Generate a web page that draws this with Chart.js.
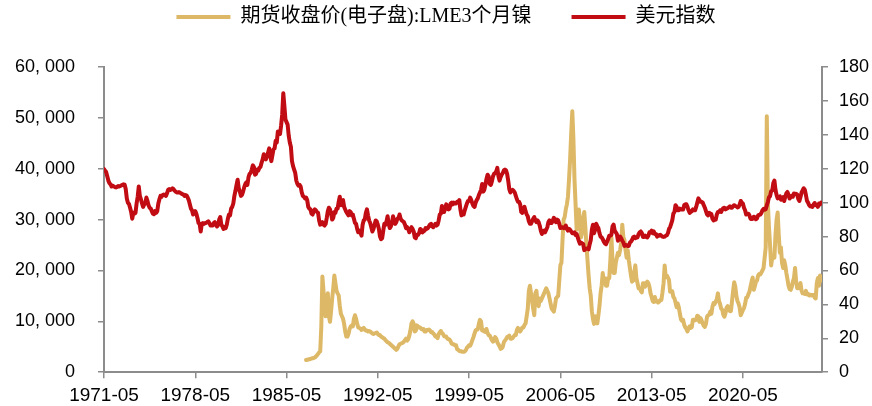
<!DOCTYPE html>
<html>
<head>
<meta charset="utf-8">
<script src="https://cdn.jsdelivr.net/npm/chart.js@4.4.1/dist/chart.umd.min.js"></script>
<style>
  html, body { margin: 0; padding: 0; background: #fff; }
  #wrap { width: 872px; height: 406px; position: relative; }
</style>
</head>
<body>
<div id="wrap"><canvas id="nickelChart"></canvas></div>
<script>
// x axis tick labels (every 7 years, May)
const xTickLabels = ["1971-05", "1978-05", "1985-05", "1992-05", "1999-05", "2006-05", "2013-05", "2020-05"];

const seriesNames = ["期货收盘价(电子盘):LME3个月镍", "美元指数"];

// 美元指数, monthly from 1971-05
const dollarStart = "1971-05";
const dollarIndex = [
  119.8, 118.8, 118.0, 115.5, 113.0, 111.5, 110.8, 109.5,
  110.0, 109.5, 109.2, 109.0, 109.3, 109.8, 109.5, 109.8, 110.2, 110.5, 110.8, 110.6,
  108.0, 102.5, 100.0, 99.2, 97.0, 94.5, 90.5, 94.0, 93.5, 94.0, 99.5, 103.5,
  109.5, 104.0, 102.0, 99.5, 97.5, 99.0, 99.5, 103.0, 101.0, 98.5, 97.0, 96.5,
  95.0, 93.5, 93.2, 95.0, 94.0, 95.0, 99.5, 102.0, 104.0, 103.5, 104.5, 104.8,
  104.5, 104.0, 105.5, 107.5, 108.0, 107.5, 107.8, 108.5, 108.0, 107.0, 106.5, 106.0,
  106.0, 106.2, 105.8, 105.5, 105.0, 104.8, 104.0, 104.5, 104.2, 103.0, 101.5, 99.0,
  96.5, 95.5, 93.0, 94.0, 95.0, 93.5, 91.0, 88.0, 87.5, 83.0, 87.5, 88.0,
  87.5, 88.0, 88.0, 88.5, 89.0, 88.0, 86.5, 86.5, 86.5, 88.0, 88.5, 86.8,
  86.0, 86.8, 90.0, 91.5, 87.0, 86.0, 84.5, 85.5, 85.0, 87.0, 90.5, 93.0,
  92.5, 96.5, 97.5, 99.5, 104.0, 107.0, 110.5, 113.5, 108.5, 106.5, 104.0, 104.5,
  106.5, 109.0, 111.0, 112.0, 110.5, 115.0, 117.0, 117.5, 119.5, 122.0, 121.0, 116.5,
  117.0, 119.5, 119.0, 120.5, 121.0, 123.5, 125.5, 128.5, 127.5, 125.5, 127.5, 129.5,
  132.0, 127.5, 124.5, 128.0, 131.5, 132.0, 136.5, 135.5, 142.0, 141.5, 140.5, 145.5,
  152.0, 164.5, 157.0, 149.0, 147.5, 146.0, 139.5, 135.5, 133.0, 124.5, 121.5, 119.5,
  117.5, 113.0, 111.0, 110.0, 110.5, 109.5, 106.0, 104.0, 103.5, 102.5, 103.0, 101.5,
  97.5, 96.5, 96.0, 93.5, 93.0, 95.0, 96.0, 95.5, 94.5, 94.0, 89.5, 87.0,
  87.5, 88.5, 87.0, 86.5, 87.5, 91.0, 95.0, 97.0, 96.0, 93.5, 90.0, 91.0,
  94.5, 94.0, 96.5, 96.5, 100.5, 103.5, 98.5, 101.0, 101.5, 97.5, 96.0, 94.5,
  93.5, 92.5, 95.0, 94.5, 92.5, 93.0, 90.5, 88.0, 87.5, 84.5, 82.5, 83.5,
  82.5, 80.5, 87.0, 89.5, 90.0, 94.0, 96.0, 92.5, 89.5, 88.0, 85.5, 83.0,
  84.5, 87.0, 89.5, 89.0, 87.0, 84.5, 80.0, 78.5, 79.0, 83.5, 87.5, 87.0,
  89.0, 92.0, 87.5, 85.0, 86.0, 88.0, 92.0, 89.5, 87.5, 88.5, 90.5, 91.0,
  93.0, 90.5, 89.5, 89.0, 88.5, 87.0, 85.0, 85.5, 84.5, 82.5, 84.5, 85.5,
  84.5, 83.0, 79.5, 79.0, 81.0, 81.0, 82.0, 84.5, 84.0, 82.5, 83.0, 83.5,
  85.0, 84.5, 85.0, 86.0, 87.0, 87.5, 86.0, 85.5, 86.5, 87.5, 86.5, 87.0,
  89.5, 93.0, 93.5, 98.0, 94.5, 94.5, 97.0, 99.0, 96.5, 96.0, 96.5, 99.5,
  100.0, 99.0, 100.0, 99.5, 99.5, 100.5, 100.5, 101.5, 96.0, 92.5, 94.0, 93.0,
  95.5, 97.5, 99.5, 101.0, 101.0, 103.0, 101.5, 99.5, 98.0, 97.5, 100.0, 101.5,
  102.5, 104.5, 106.0, 107.5, 111.0, 106.5, 107.5, 110.5, 114.0, 116.5, 115.5, 111.0,
  110.5, 112.5, 115.5, 117.0, 117.5, 118.5, 120.5, 115.5, 113.0, 115.0, 116.5, 117.5,
  119.0, 119.5, 119.0, 117.0, 113.0, 108.0, 106.0, 107.0, 107.5, 107.0, 106.0, 104.0,
  102.0, 100.5, 100.5, 99.0, 94.5, 94.0, 96.0, 97.5, 95.0, 93.0, 92.0, 89.0,
  87.5, 87.5, 89.0, 90.5, 91.5, 89.5, 88.5, 89.5, 88.5, 86.5, 83.5, 81.5,
  83.0, 83.5, 82.5, 84.0, 85.5, 88.5, 89.5, 88.0, 88.0, 89.5, 91.0, 90.0,
  88.5, 90.0, 89.5, 87.5, 85.0, 85.5, 85.5, 85.0, 85.5, 86.5, 84.5, 83.5,
  84.5, 84.0, 83.0, 82.0, 82.0, 82.5, 81.0, 81.5, 79.5, 77.5, 75.8, 76.5,
  76.0, 75.5, 72.0, 72.5, 72.8, 73.0, 72.5, 75.5, 78.0, 84.0, 87.0, 82.0,
  84.0, 87.5, 86.0, 85.0, 82.0, 80.0, 79.5, 78.5, 77.0, 76.0, 75.5, 77.0,
  78.5, 80.5, 80.5, 81.0, 86.0, 87.0, 83.5, 82.5, 81.5, 77.5, 78.5, 80.0,
  79.0, 77.5, 76.5, 74.5, 75.0, 74.8, 74.5, 74.5, 76.5, 77.0, 78.0, 79.5,
  80.0, 79.0, 79.5, 79.5, 81.5, 82.5, 83.0, 82.0, 79.8, 79.8, 80.5, 79.8,
  79.5, 80.5, 82.5, 82.5, 83.5, 82.0, 83.0, 81.5, 81.5, 80.0, 80.7, 80.5,
  81.0, 80.5, 80.0, 79.8, 80.0, 80.5, 80.8, 82.0, 84.5, 85.5, 87.5, 89.5,
  93.5, 94.5, 98.5, 97.5, 95.5, 95.5, 96.5, 96.0, 96.0, 96.0, 98.5, 99.0,
  99.0, 97.5, 95.5, 94.0, 94.5, 95.0, 96.0, 95.5, 95.5, 97.5, 100.0, 102.5,
  101.5, 100.5, 100.5, 100.0, 98.5, 97.0, 95.0, 93.0, 92.5, 94.0, 93.5, 93.2,
  90.5, 89.5, 89.8, 90.0, 93.0, 94.5, 94.5, 95.5, 94.5, 96.0, 96.8, 97.0,
  96.0, 96.5, 96.8, 97.3, 97.8, 97.0, 97.0, 98.0, 98.5, 98.0, 97.8, 97.2,
  97.5, 98.8, 101.0, 100.0, 99.5, 97.0, 95.5, 93.0, 93.5, 93.5, 92.5, 90.5,
  90.3, 90.5, 91.7, 91.5, 90.2, 90.8, 92.5, 92.8, 93.0, 93.9, 95.5, 96.3,
  95.8, 96.2, 98.4, 100.5, 103.2, 103.8, 106.8, 107.2, 111.5, 113.0, 107.5, 104.5,
  102.5, 103.5, 103.7, 101.7, 102.6, 103.3, 101.0, 103.5, 105.5, 106.3, 104.5, 102.4,
  103.2, 104.0, 103.5, 105.4, 105.1, 105.2, 104.7, 102.1, 101.0, 103.3, 106.0, 107.3,
  108.5, 107.5, 104.5, 101.0, 100.0, 98.5, 97.8, 98.0, 97.5, 98.8, 99.8, 98.5,
  98.5, 97.5, 99.5, 99.0, 100.0
];

// LME 3-month nickel close, USD/t, monthly from 1986-11
const nickelStart = "1986-11";
const nickelPrice = [
  2400, 2450,
  2500, 2550, 2600, 2700, 2750, 2800, 2900, 3100, 3300, 3600, 3900, 4100,
  9000, 18800, 16000, 13500, 11000, 12500, 15500, 11000, 9900, 12000, 14500, 16500,
  19000, 17500, 16000, 15500, 15100, 13000, 11500, 11000, 10500, 9500, 8000, 7000,
  7000, 7500, 8500, 9000, 9200, 9000, 10500, 11200, 10500, 9500, 8800, 8700,
  8600, 8300, 8500, 8700, 8400, 8200, 8200, 8000, 8100, 8000, 7800, 7600,
  7500, 7600, 7700, 7800, 7500, 7300, 7300, 7000, 6900, 6700, 6600, 6300,
  6100, 5900, 5800, 5600, 5400, 5200, 5000, 4800, 4600, 4400, 4600, 5100,
  5500, 5600, 5700, 5800, 6000, 6300, 6600, 6200, 6500, 7200, 8200, 9600,
  10000, 9500, 8000, 8200, 9200, 9000, 8800, 8800, 8500, 8400, 8500, 8000,
  8000, 8300, 8300, 8400, 8200, 7900, 7900, 7600, 7400, 7000, 7000, 6700,
  7500, 7800, 8100, 7700, 7500, 7100, 7000, 7000, 6600, 6500, 6400, 6100,
  5600, 5500, 5500, 5300, 5300, 4500, 4400, 4200, 4100, 4100, 4000, 4000,
  4100, 4300, 4800, 5000, 5300, 5200, 5700, 6300, 6900, 7600, 8200, 8400,
  8400, 9500, 10300, 10000, 8200, 8300, 8000, 7900, 8500, 7700, 7300, 7200,
  6800, 6300, 6000, 6200, 6900, 6600, 5900, 5500, 5100, 4600, 4700, 5000,
  5900, 6200, 6500, 6900, 7000, 7200, 6600, 6600, 6700, 7000, 7300, 7300,
  8300, 8700, 8200, 8000, 8400, 8800, 8800, 9300, 9600, 11000, 12500, 16000,
  17000, 15500, 14000, 12500, 11200, 15500, 16000, 13500, 13000, 14500, 14000, 14500,
  15000, 15500, 16000, 16500, 16000, 15500, 14500, 13500, 12500, 12200, 11900, 13000,
  14500, 14800, 15000, 18000, 21000, 21500, 26000, 30000, 30500, 32000, 33000, 34500,
  38000, 42000, 47000, 51300, 46000, 38000, 33000, 28000, 30500, 32000, 30000, 26500,
  27500, 30000, 31500, 28500, 25000, 22000, 19000, 16500, 15000, 12000, 10500, 9500,
  11000, 10500, 9600, 11200, 13000, 15500, 17000, 19500, 17500, 18500, 17000, 17000,
  18500, 18500, 22000, 26500, 22000, 19500, 19500, 21500, 22500, 23500, 23000, 24000,
  25500, 29000, 26500, 26000, 24000, 22500, 24000, 22000, 20500, 19000, 17800, 18000,
  19500, 21000, 18500, 17500, 16500, 16500, 16000, 15700, 17500, 17500, 16800, 17500,
  17800, 17500, 16800, 15500, 14800, 14000, 13800, 14800, 13900, 14000, 13700, 13900,
  14200, 14200, 15700, 17500, 21000, 18700, 19000, 18600, 18100, 15800, 15800, 15900,
  14800, 14500, 13700, 12800, 13500, 12800, 11500, 10400, 10100, 10300, 9300, 8800,
  8500, 8000, 8700, 9000, 8700, 8900, 10300, 10300, 10200, 10300, 11100, 11000,
  9900, 10600, 10200, 9600, 9100, 8900, 9500, 10900, 11200, 11300, 11900, 11500,
  12900, 13600, 13400, 13900, 14400, 15500, 14000, 13400, 12500, 12300, 11300, 10900,
  11600, 12700, 13000, 12400, 12000, 12000, 14000, 16000, 17700, 16800, 15000, 14000,
  13500, 12700, 11200, 11700, 12200, 12600, 13400, 14600, 14700, 15300, 15800, 16800,
  17800, 18600, 16200, 16900, 17800, 18000, 19000, 19300, 19200, 19600, 20000, 20500,
  22500, 24500, 50300, 33000, 28500, 25000, 21000, 22500, 23000, 22500, 27000, 30000,
  31400, 27000, 23500, 24500, 21500, 20500, 22000, 21000, 19500, 18300, 17000, 16300,
  16200, 16800, 17800, 18500, 20500, 17800, 16500, 16500, 17000, 17500, 16000, 15500,
  15500, 15400, 16000, 15300, 15400, 15100, 15200, 15100, 15200, 15200, 14700, 14500,
  17500, 18500, 17000, 19000, 18000
];

const nickelColor = "#DDB866";
const dollarColor = "#C00C12";
const axisColor = "#8C8C8C";
const axisFont = { family: "'Liberation Sans', Arial, sans-serif", size: 18 };
const legendFont = { family: "'Liberation Serif', 'Noto Sans CJK SC', serif", size: 20 };

function monthToX(label) {
  const parts = label.split("-").map(Number);
  return parts[0] + (parts[1] - 1) / 12;
}

function toPoints(start, values) {
  const x0 = monthToX(start);
  return values.map((v, i) => ({ x: x0 + i / 12, y: v }));
}

function withCommaSpace(v) {
  return String(v).replace(/\B(?=(\d{3})+(?!\d))/g, ", ");
}

// move the legend up into the top margin (and a bit right), keep the plot where it is
const legendShift = {
  id: "legendShift",
  afterLayout(chart) {
    const lg = chart.legend;
    if (!lg) return;
    lg.top -= 30;
    lg.bottom -= 30;
    lg.left += 10;
    lg.right += 10;
  }
};

const axisGrid = {
  display: true,
  drawOnChartArea: false,
  drawTicks: true,
  tickLength: 6,
  color: axisColor,
  lineWidth: 1.5
};
const axisBorder = { display: true, color: axisColor, width: 2 };

const ctx = document.getElementById("nickelChart").getContext("2d");

new Chart(ctx, {
  type: "line",
  data: {
    datasets: [
      {
        label: seriesNames[0],
        data: toPoints(nickelStart, nickelPrice),
        borderColor: nickelColor,
        backgroundColor: nickelColor,
        borderWidth: 4,
        borderJoinStyle: "round",
        borderCapStyle: "round",
        pointRadius: 0,
        tension: 0,
        yAxisID: "y",
        order: 2
      },
      {
        label: seriesNames[1],
        data: toPoints(dollarStart, dollarIndex),
        borderColor: dollarColor,
        backgroundColor: dollarColor,
        borderWidth: 4,
        borderJoinStyle: "round",
        borderCapStyle: "round",
        pointRadius: 0,
        tension: 0,
        yAxisID: "y1",
        order: 1
      }
    ]
  },
  options: {
    responsive: true,
    maintainAspectRatio: false,
    animation: false,
    devicePixelRatio: 1,
    layout: { padding: { top: -3, left: 0, right: 0, bottom: 0 } },
    plugins: {
      legend: {
        position: "top",
        labels: {
          boxWidth: 54,
          boxHeight: 4,
          padding: 40,
          color: "#000",
          font: legendFont,
          sort: (a, b) => a.datasetIndex - b.datasetIndex,
          generateLabels: (chart) =>
            Chart.defaults.plugins.legend.labels.generateLabels(chart).map((item) => ({ ...item, lineWidth: 0 }))
        }
      },
      tooltip: { enabled: false }
    },
    scales: {
      x: {
        type: "linear",
        min: monthToX(xTickLabels[0]),
        max: 2026.4,
        afterBuildTicks: (scale) => {
          scale.ticks = xTickLabels.map((l) => ({ value: monthToX(l) }));
        },
        afterFit: (scale) => {
          scale.height = 32;
        },
        ticks: {
          autoSkip: false,
          maxRotation: 0,
          padding: 6,
          color: "#000",
          font: { family: axisFont.family, size: 19 },
          callback: (value, index) => xTickLabels[index]
        },
        grid: axisGrid,
        border: axisBorder
      },
      y: {
        type: "linear",
        position: "left",
        min: 0,
        max: 60000,
        afterFit: (scale) => {
          scale.width = 104;
        },
        ticks: {
          stepSize: 10000,
          padding: 23,
          color: "#000",
          font: axisFont,
          callback: (v) => withCommaSpace(v)
        },
        grid: axisGrid,
        border: axisBorder
      },
      y1: {
        type: "linear",
        position: "right",
        min: 0,
        max: 180,
        afterFit: (scale) => {
          scale.width = 50;
        },
        ticks: {
          stepSize: 20,
          padding: 11,
          color: "#000",
          font: axisFont
        },
        grid: axisGrid,
        border: axisBorder
      }
    }
  },
  plugins: [legendShift]
});
</script>
</body>
</html>
